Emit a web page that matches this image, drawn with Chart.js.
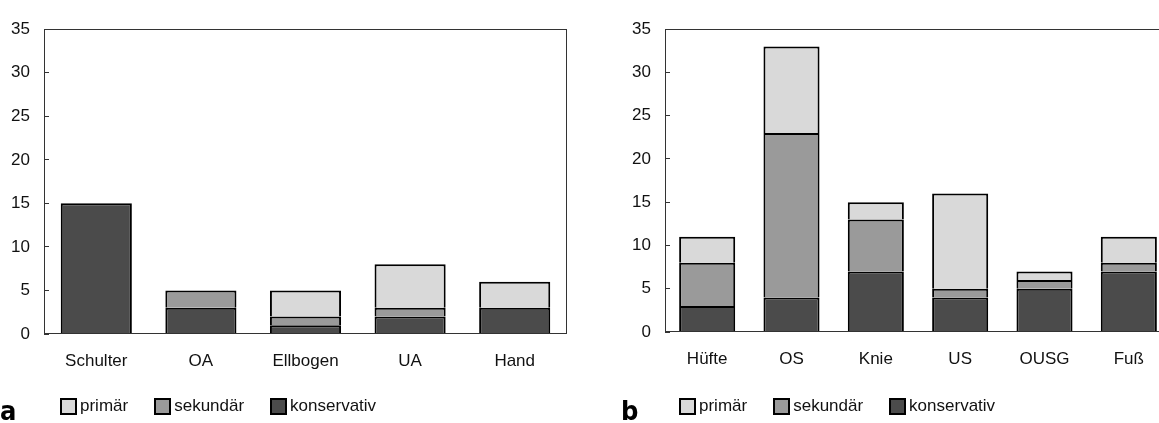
<!DOCTYPE html>
<html>
<head>
<meta charset="utf-8">
<script src="https://cdn.jsdelivr.net/npm/chart.js@4/dist/chart.umd.min.js"></script>
<style>
html,body{margin:0;padding:0;background:#fff;overflow:hidden;width:1159px;height:423px;position:relative;}
#ca{position:absolute;left:0;top:0;}
#cb{position:absolute;left:580px;top:0;}
.legend{position:absolute;top:396px;height:20px;display:flex;align-items:center;font:17px "Liberation Sans",Arial,sans-serif;color:#111;line-height:20px;}
.item{display:flex;align-items:center;margin-right:26px;}
.box{width:13px;height:13px;border:2px solid #000;margin-right:3px;}
.tag{position:absolute;top:398px;font:bold 27px/26px "Liberation Sans Narrow","DejaVu Sans Condensed",sans-serif;color:#000;}
</style>
</head>
<body>
<canvas id="ca" width="580" height="423"></canvas>
<canvas id="cb" width="600" height="423"></canvas>
<div class="tag" style="left:0px">a</div>
<div class="tag" style="left:621px">b</div>
<div class="legend" id="la" style="left:60px"></div>
<div class="legend" id="lb" style="left:679px"></div>
<script>
// ---- data ----
const catsA = ['Schulter', 'OA', 'Ellbogen', 'UA', 'Hand'];
const konsA = [15, 3, 1, 2, 3];
const sekA  = [0, 2, 1, 1, 0];
const primA = [0, 0, 3, 5, 3];

const catsB = ['Hüfte', 'OS', 'Knie', 'US', 'OUSG', 'Fuß'];
const konsB = [3, 4, 7, 4, 5, 7];
const sekB  = [5, 19, 6, 1, 1, 1];
const primB = [3, 10, 2, 11, 1, 3];

const yMin = 0, yMax = 35, yStep = 5;
const seriesNames  = ['primär', 'sekundär', 'konservativ'];
const seriesColors = ['#d9d9d9', '#9a9a9a', '#4b4b4b'];

// ---- rendering ----
const FONT = {family: '"Liberation Sans", Arial, sans-serif', size: 17};
const TXT = '#111';

const frame = {
  id: 'frame',
  afterDatasetsDraw(chart) {
    const {ctx, chartArea: a} = chart;
    ctx.save();
    ctx.strokeStyle = '#333';
    ctx.lineWidth = 1;
    const l = Math.round(a.left) + 0.5, t = Math.round(a.top) + 0.5;
    const r = Math.round(a.right) - 0.5, b = Math.round(a.bottom) - 0.5;
    ctx.strokeRect(l, t, r - l, b - t);
    ctx.restore();
  }
};

function makeChart(id, cats, kons, sek, prim, o) {
  return new Chart(document.getElementById(id), {
    type: 'bar',
    data: {
      labels: cats,
      datasets: [
        {label: seriesNames[2], data: kons, backgroundColor: seriesColors[2]},
        {label: seriesNames[1], data: sek,  backgroundColor: seriesColors[1]},
        {label: seriesNames[0], data: prim, backgroundColor: seriesColors[0]}
      ]
    },
    options: {
      responsive: false,
      animation: false,
      devicePixelRatio: 1,
      layout: {padding: {left: 0, right: o.padRight, top: o.padTop, bottom: o.padBottom}},
      datasets: {bar: {borderColor: '#000', borderWidth: 2, categoryPercentage: 1, barPercentage: o.barPct}},
      plugins: {legend: {display: false}, tooltip: {enabled: false}},
      scales: {
        x: {
          stacked: true,
          grid: {display: false, drawTicks: false},
          border: {display: false},
          ticks: {font: FONT, color: TXT, padding: 17, maxRotation: 0, autoSkip: false},
          afterFit(s) { s.height = 40; }
        },
        y: {
          stacked: true,
          min: yMin, max: yMax,
          ticks: {stepSize: yStep, font: FONT, color: TXT, padding: 19},
          grid: {drawOnChartArea: false, drawTicks: true, tickLength: -5, tickColor: '#333', lineWidth: 1},
          border: {display: false},
          afterFit(s) { s.width = o.yWidth; }
        }
      }
    },
    plugins: [frame]
  });
}

makeChart('ca', catsA, konsA, sekA, primA, {padRight: 13, padTop: 16, padBottom: 49, barPct: 0.68, yWidth: 44});
makeChart('cb', catsB, konsB, sekB, primB, {padRight: 9, padTop: 26, padBottom: 51, barPct: 0.665, yWidth: 85});

function legend(id) {
  const el = document.getElementById(id);
  seriesNames.forEach((n, i) => {
    const it = document.createElement('div');
    it.className = 'item';
    const bx = document.createElement('div');
    bx.className = 'box';
    bx.style.background = seriesColors[i];
    const tx = document.createElement('span');
    tx.textContent = n;
    it.appendChild(bx); it.appendChild(tx);
    el.appendChild(it);
  });
}
legend('la');
legend('lb');
</script>
</body>
</html>
